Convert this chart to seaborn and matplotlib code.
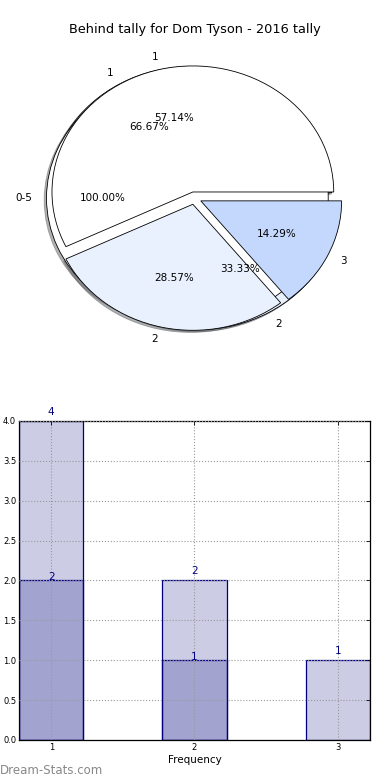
import matplotlib
matplotlib.use("Agg")
import matplotlib.pyplot as plt
import seaborn as sns

# pie data (three pies drawn over each other)
tally_labels = ["1", "2", "3"]
tally_counts = [4, 2, 1]
behind_labels = ["1", "2"]
behind_counts = [2, 1]
range_labels = ["0-5"]
range_counts = [1]

# bar data
bar_cats = ["1", "2", "3"]
bar_all = [4, 2, 1]
bar_sub_cats = ["1", "2"]
bar_sub = [2, 1]

pie_colors = ["white", "#eaf1fe", "#c4d8fe"]
navy = "#000080"

sns.set_style("white")
plt.rcParams["font.family"] = ["DejaVu Sans"]
plt.rcParams["text.color"] = "black"
plt.rcParams["axes.labelcolor"] = "black"

fig = plt.figure(figsize=(3.9, 7.8), dpi=100)
ax1 = fig.add_axes([0.047, 0.544, 0.903, 0.404])
ax2 = fig.add_axes([0.0487, 0.0513, 0.9, 0.409])

fig.text(0.5, 1 - 30 / 780, "Behind tally for Dom Tyson - 2016 tally",
         ha="center", va="center", fontsize=9.3)

txt = dict(fontsize=7.5, color="black")
shad = {"ox": -0.012, "oy": -0.012, "shade": 0.6}
wp = dict(edgecolor="black", linewidth=0.6)
ax1.pie(behind_counts, labels=behind_labels, colors=pie_colors[:2], explode=[0.05] * 2,
        autopct="%.2f%%", shadow=shad, wedgeprops=wp, textprops=txt)
ax1.pie(range_counts, labels=range_labels, colors=["white"], explode=[0.05],
        autopct="%.2f%%", shadow=shad, wedgeprops=wp, textprops=txt)
ax1.pie(tally_counts, labels=tally_labels, colors=pie_colors, explode=[0.05] * 3,
        autopct="%.2f%%", shadow=shad, wedgeprops=wp, textprops=txt)
ax1.set_aspect("auto")
ax1.set_xlim(-1.25, 1.25)
ax1.set_ylim(-1.25, 1.25)

# bars
sns.barplot(x=bar_cats, y=bar_all, order=bar_cats, width=0.45, errorbar=None, ax=ax2)
sns.barplot(x=bar_sub_cats, y=bar_sub, order=bar_cats, width=0.45, errorbar=None, ax=ax2)
for p in ax2.patches:
    p.set_facecolor((0, 0, 0.5, 0.2))
    p.set_edgecolor(navy)
    p.set_linewidth(0.9)

for i, v in enumerate(bar_all):
    ax2.text(i, v + 0.05, str(v), ha="center", va="bottom", color=navy, fontsize=7.5)
for i, v in enumerate(bar_sub):
    ax2.text(i, v - 0.02, str(v), ha="center", va="bottom", color=navy, fontsize=7.5)

ax2.set_xlim(-0.225, 2.225)
ax2.set_ylim(0, 4)
ax2.set_yticks([0, 0.5, 1, 1.5, 2, 2.5, 3, 3.5, 4])
ax2.set_yticklabels(["0.0", "0.5", "1.0", "1.5", "2.0", "2.5", "3.0", "3.5", "4.0"])
ax2.set_xlabel("Frequency", fontsize=7.5, labelpad=2)
ax2.set_ylabel("")
ax2.tick_params(direction="in", top=True, right=True, length=3, width=0.6,
                labelsize=6, pad=2, colors="black")
ax2.grid(True, linestyle=":", color="#999999", linewidth=0.8)
ax2.set_axisbelow(False)
for s in ax2.spines.values():
    s.set_color("black")
    s.set_linewidth(0.9)

fig.text(0.0, 1 - 771 / 780, "Dream-Stats.com", ha="left", va="center",
         fontsize=8.5, color="#888888")

fig.savefig("out.png", dpi=100)
